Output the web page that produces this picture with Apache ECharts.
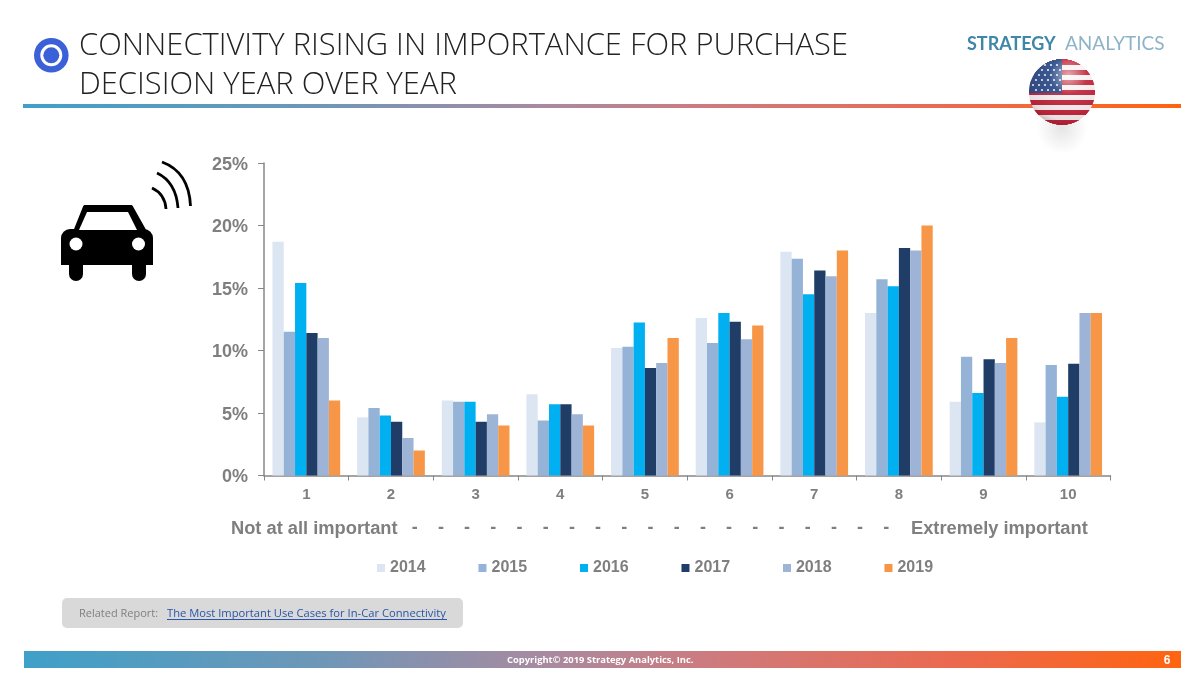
<!DOCTYPE html>
<html><head><meta charset="utf-8">
<style>html,body{margin:0;padding:0;background:#fff}#c{width:1200px;height:679px}</style>
<script src="https://cdn.jsdelivr.net/npm/echarts@6/dist/echarts.min.js"></script>
</head><body><div id="c"></div>
<script>
const categories = ['1','2','3','4','5','6','7','8','9','10'];
const years = ['2014','2015','2016','2017','2018','2019'];
const v2014 = [18.7,4.65,6.0,6.5,10.2,12.6,17.9,13.0,5.9,4.25];
const v2015 = [11.5,5.4,5.9,4.4,10.3,10.6,17.35,15.7,9.5,8.85];
const v2016 = [15.4,4.8,5.9,5.7,12.25,13.0,14.5,15.15,6.6,6.3];
const v2017 = [11.4,4.3,4.3,5.7,8.6,12.3,16.4,18.2,9.3,8.95];
const v2018 = [11.0,3.0,4.9,4.9,9.0,10.9,15.95,18.0,9.0,13.0];
const v2019 = [6.0,2.0,4.0,4.0,11.0,12.0,18.0,20.0,11.0,13.0];
const seriesValues = [v2014,v2015,v2016,v2017,v2018,v2019];
const colors = ['#dce6f2','#95b3d7','#00b0f0','#1f3d66','#9db4d6','#f79646'];
const titleLines = ['CONNECTIVITY RISING IN IMPORTANCE FOR PURCHASE','DECISION YEAR OVER YEAR'];

const ARIAL = '"Liberation Sans",Arial,sans-serif';
const GRAY = '#7f7f7f';
const grad = () => new echarts.graphic.LinearGradient(0,0,1,0,[
  {offset:0,color:'#3fa0c8'},{offset:.25,color:'#6d97b8'},{offset:.45,color:'#a88aa0'},{offset:.6,color:'#cf7a7c'},{offset:.8,color:'#ea6a50'},{offset:1,color:'#ff6410'}]);
const g = [];
const rect = (x,y,w,h,fill,r,z) => g.push({type:'rect',silent:true,z:z||1,shape:{x,y,width:w,height:h,r:r||0},style:{fill}});
const circ = (cx,cy,r,fill,z) => g.push({type:'circle',silent:true,z:z||1,shape:{cx,cy,r},style:{fill}});
const txt = (x,y,text,font,fill,align,z) => g.push({type:'text',silent:true,z:z||5,x,y,style:{text,font,fill,textAlign:align||'left',textVerticalAlign:'middle'}});

// header
rect(23,104,1158,4,grad());
circ(51.3,55.3,17.3,'#3c60d8');
circ(51.3,55.3,11,'#ffffff');
circ(51.3,55.3,8,'#3c60d8');
txt(79,46.5,titleLines[0],'300 30.9px "Open Sans",sans-serif','#222222');
txt(79,85.5,titleLines[1],'300 30.9px "Open Sans",sans-serif','#222222');
txt(967,44,'STRATEGY','700 18px Lato,sans-serif','#3f86a8');
txt(1065,44,'ANALYTICS','400 19px Lato,sans-serif','#8db4c6');

// flag
const fx=1062, fy=92, fr=33;
g.push({type:'circle',silent:true,z:1,shape:{cx:fx,cy:fy+36,r:26},style:{fill:new echarts.graphic.RadialGradient(.5,.5,.5,[{offset:0,color:'rgba(0,0,0,0.1)'},{offset:1,color:'rgba(0,0,0,0)'}])}});
for(let i=-fr;i<fr;i++){
  const ym=i+.5, hw=Math.sqrt(fr*fr-ym*ym);
  const s=Math.floor((i+fr)/(2*fr)*13);
  rect(fx-hw,fy+i,2*hw,1,s%2?'#f7f0f0':'#c0243a',0,3);
  if(i<1) rect(fx-hw,fy+i,hw,1,'#2c4a86',0,3);
}
for(let r=0;r<6;r++) for(let c=0;c<5;c++){
  const x=fx-29+c*6+(r%2?3:0), y=fy-27+r*5;
  if(x<fx-1 && Math.hypot(x-fx,y-fy)<fr-1) circ(x,y,1.1,'#e8eef8',4);
}
g.push({type:'circle',silent:true,z:4,shape:{cx:fx,cy:fy,r:fr},style:{fill:new echarts.graphic.RadialGradient(.6,.25,.8,[
  {offset:0,color:'rgba(255,255,255,0.6)'},{offset:.35,color:'rgba(255,255,255,0.08)'},{offset:.85,color:'rgba(60,20,30,0.08)'},{offset:1,color:'rgba(60,20,30,0.3)'}])}});

// car icon
g.push({type:'polygon',silent:true,z:2,shape:{points:[[85,207],[131,207],[145,232],[75,232]]},style:{fill:'#000',stroke:'#000',lineWidth:4,lineJoin:'round'}});
rect(61,229,92,36,'#000',[9,9,0,0],2);
rect(69,260,14,21,'#000',[0,0,7,7],2);
rect(132,260,14,21,'#000',[0,0,7,7],2);
g.push({type:'polygon',silent:true,z:3,shape:{points:[[87,212],[128,212],[137,230],[79,230]]},style:{fill:'#fff'}});
circ(76,244,6.5,'#fff',3); circ(138.5,244,6.5,'#fff',3);
[[162,162,189,172,190.5,206],[157,173,176,182,178,208],[152,188,165,194,166,209]].forEach(a=>
  g.push({type:'bezierCurve',silent:true,z:2,shape:{x1:a[0],y1:a[1],cpx1:a[2],cpy1:a[3],x2:a[4],y2:a[5]},style:{fill:null,stroke:'#000',lineWidth:2.8}}));

// scale captions
txt(231,528.5,'Not at all important','bold 18.3px '+ARIAL,GRAY);
for(let i=0;i<19;i++) txt(414.7+i*26.2,528.5,'-','bold 18px '+ARIAL,GRAY,'center');
txt(911,528.5,'Extremely important','bold 18.3px '+ARIAL,GRAY);

// related report
rect(62,598,401,30,'#d9d9d9',5);
txt(79,613.5,'Related Report:','11px "Open Sans",sans-serif','#808080');
txt(167,613.5,'The Most Important Use Cases for In-Car Connectivity','11.2px "Open Sans",sans-serif','#2a55a8');
g.push({type:'line',silent:true,z:5,shape:{x1:167,y1:619.5,x2:447,y2:619.5},style:{stroke:'#2a55a8',lineWidth:1}});

// footer
rect(24,651,1157,17,grad());
txt(507,660,'Copyright© 2019 Strategy Analytics, Inc.','bold 9.4px "Open Sans",sans-serif','#ffffff');
txt(1167,661,'6','bold 12px '+ARIAL,'#ffffff','center');

const chart = echarts.init(document.getElementById('c'),null,{renderer:'canvas'});
chart.setOption({
  animation:false,
  backgroundColor:'#fff',
  color:colors,
  grid:{left:264,top:163,width:846.5,height:312.5,containLabel:false},
  legend:{data:years,left:372,top:555,itemWidth:8,itemHeight:8,itemGap:52.9,icon:'rect',
    textStyle:{fontFamily:ARIAL,fontWeight:'bold',fontSize:16,color:GRAY}},
  xAxis:{type:'category',data:categories,
    axisLine:{lineStyle:{color:'#868686',width:1.5}},
    axisTick:{show:true,length:5,lineStyle:{color:'#868686'}},
    axisLabel:{fontFamily:ARIAL,fontWeight:'bold',fontSize:15,color:GRAY,margin:12}},
  yAxis:{type:'value',min:0,max:25,interval:5,
    axisLine:{show:true,lineStyle:{color:'#868686',width:1.5}},
    axisTick:{show:true,length:6,lineStyle:{color:'#868686'}},
    splitLine:{show:false},
    axisLabel:{formatter:'{value}%',fontFamily:ARIAL,fontWeight:'bold',fontSize:18,color:GRAY,margin:16,verticalAlign:'top',lineHeight:4}},
  series:years.map((y,i)=>({name:y,type:'bar',data:seriesValues[i],barGap:0,barCategoryGap:'20%',z:2,
    itemStyle:{color:colors[i]}})),
  graphic:{elements:g}
});
</script></body></html>
